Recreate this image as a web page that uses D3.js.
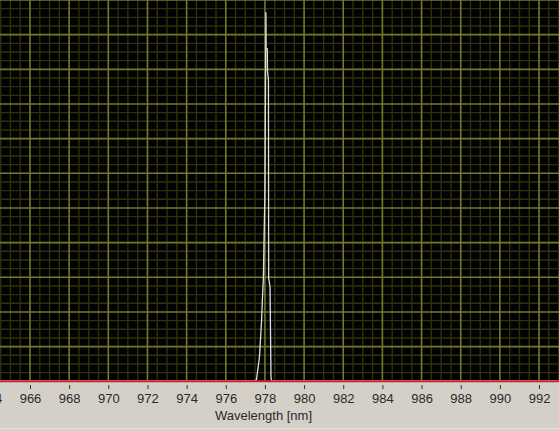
<!DOCTYPE html>
<html>
<head>
<meta charset="utf-8">
<script src="https://cdn.jsdelivr.net/npm/d3@7"></script>
<style>
  html, body { margin: 0; padding: 0; background: #d4d0c8; }
  svg { display: block; }
</style>
</head>
<body>
<svg id="chart" width="559" height="431"></svg>
<script>
// ---- data ----
const wavelength = [964.4, 977.50, 977.57, 977.62, 977.72, 977.78, 977.83, 977.87, 977.92, 978.00,
                    978.05, 978.06, 978.12, 978.13, 978.18, 978.19, 978.26, 978.31, 978.34, 993.1];
const intensity  = [0.02, 0.02, 0.05, 0.27, 0.70, 1.28, 1.77, 2.35, 2.98, 5.52,
                    10.65, 9.59, 9.59, 8.95, 8.69, 2.98, 2.72, 0.10, 0.02, 0.02];
const xTickLabels = [964, 966, 968, 970, 972, 974, 976, 978, 980, 982, 984, 986, 988, 990, 992];
const xAxisTitle = "Wavelength [nm]";

// ---- layout ----
const W = 559, H = 431;
const plotBottom = 381.3;
const svg = d3.select("#chart");

const x = d3.scaleLinear().domain([964.468, 993.02]).range([0, W]);
const y = d3.scaleLinear().domain([0, 11]).range([plotBottom, 0]);

// background
svg.append("rect").attr("x", 0).attr("y", 0).attr("width", W).attr("height", H).attr("fill", "#d4d0c8");
svg.append("rect").attr("x", 0).attr("y", 0).attr("width", W).attr("height", plotBottom).attr("fill", "#020202");

const grid = svg.append("g");
// minor grid
const xMinor = d3.range(964, 993.01, 0.5).filter(v => Math.abs(v / 2 - Math.round(v / 2)) > 1e-6);
const yMinor = d3.range(0, 11.01, 0.25).filter(v => Math.abs(v - Math.round(v)) > 1e-6);
grid.selectAll(".vminor").data(xMinor).enter().append("line")
  .attr("x1", d => x(d)).attr("x2", d => x(d))
  .attr("y1", 0).attr("y2", plotBottom)
  .attr("stroke", "#2e300e").attr("stroke-width", 1.4);
grid.selectAll(".hminor").data(yMinor).enter().append("line")
  .attr("y1", d => y(d)).attr("y2", d => y(d))
  .attr("x1", 0).attr("x2", W)
  .attr("stroke", "#2e300e").attr("stroke-width", 1.4);
// major grid
grid.selectAll(".vmajor").data(xTickLabels).enter().append("line")
  .attr("x1", d => x(d)).attr("x2", d => x(d))
  .attr("y1", 0).attr("y2", plotBottom)
  .attr("stroke", "#76782a").attr("stroke-width", 1.6);
grid.selectAll(".hmajor").data(d3.range(0, 12, 1)).enter().append("line")
  .attr("y1", d => y(d)).attr("y2", d => y(d))
  .attr("x1", 0).attr("x2", W)
  .attr("stroke", "#76782a").attr("stroke-width", 1.6);

// spectrum
const pts = wavelength.map((w, i) => [w, intensity[i]]);
svg.append("path")
  .datum(pts)
  .attr("fill", "none")
  .attr("stroke", "#e0e0e0")
  .attr("stroke-width", 1.3)
  .attr("d", d3.line().x(d => x(d[0])).y(d => y(d[1])));

// red baseline
svg.append("line").attr("x1", 0).attr("x2", W)
  .attr("y1", plotBottom).attr("y2", plotBottom)
  .attr("stroke", "#c8202a").attr("stroke-width", 2);

// x axis
const axis = d3.axisBottom(x).tickValues(xTickLabels).tickFormat(d3.format("d"))
  .tickSize(4).tickSizeOuter(0).tickPadding(5);
const ag = svg.append("g").attr("transform", `translate(0,${385})`).call(axis);
ag.select(".domain").remove();
ag.selectAll(".tick line").attr("stroke", "#333").attr("stroke-width", 1);
ag.selectAll(".tick text")
  .attr("fill", "#2a2a2a")
  .style("font-family", "'Liberation Sans', Arial, sans-serif")
  .style("font-size", "13px");

svg.append("text")
  .attr("x", 263.5).attr("y", 420)
  .attr("text-anchor", "middle")
  .attr("fill", "#2a2a2a")
  .style("font-family", "'Liberation Sans', Arial, sans-serif")
  .style("font-size", "13px")
  .text(xAxisTitle);

svg.append("line").attr("x1", 0).attr("x2", W).attr("y1", 428.5).attr("y2", 428.5)
  .attr("stroke", "#e6e4de").attr("stroke-width", 1);
</script>
</body>
</html>
